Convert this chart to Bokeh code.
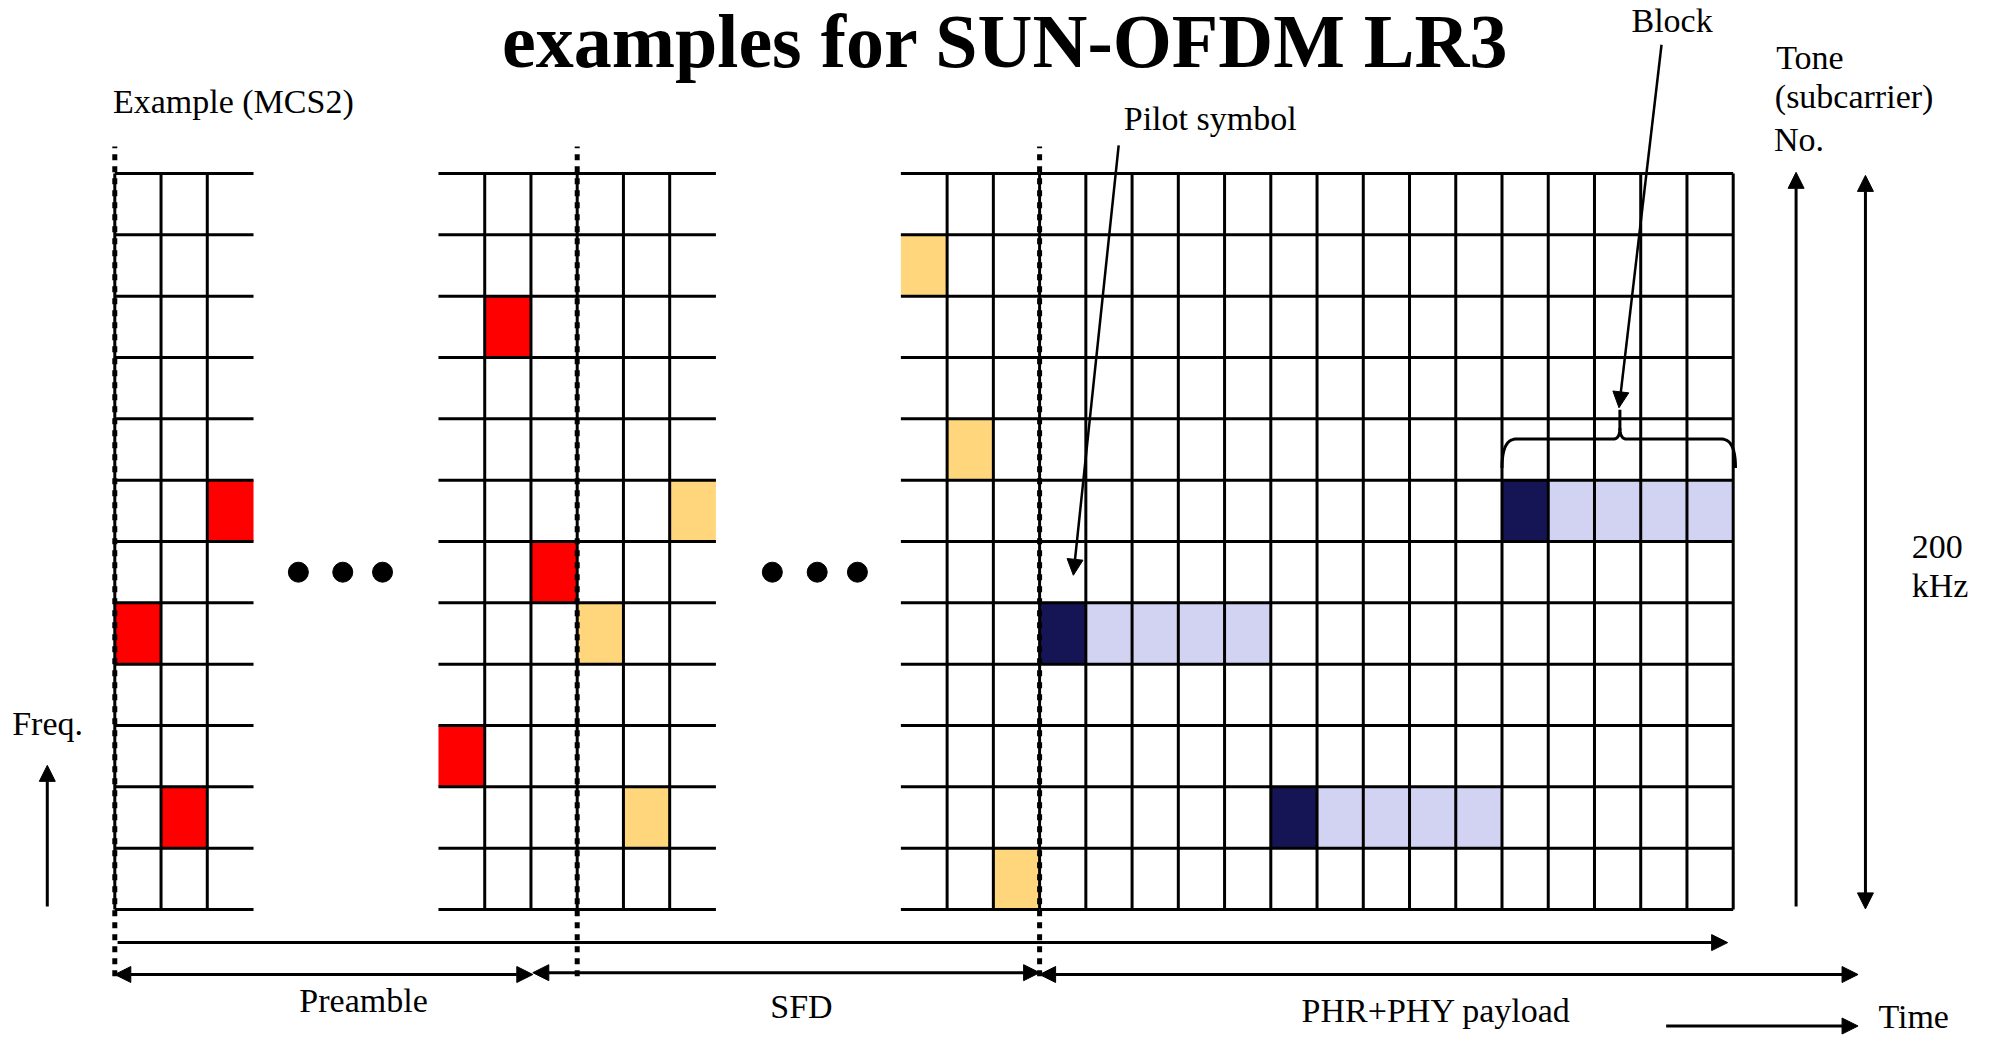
from bokeh.plotting import figure
from bokeh.models import Arrow, NormalHead
from bokeh.core.properties import value
from bokeh.embed import file_html
from bokeh.resources import INLINE
import numpy as np

# ---------------- data (grid units: columns = OFDM symbols, rows = tones) -------------
n_rows = 12
# grid blocks: (first col, last col, vertical lines)
block_a = (0, 3, [0, 1, 2])
block_b = (7, 13, [8, 9, 10, 11, 12])
block_c = (17, 20, [18, 19])
main_grid = (20, 35, list(range(20, 36)))

red_cols = [2, 0, 1, 8, 9, 7]
red_rows = [6, 4, 1, 9, 5, 2]
yellow_cols = [10, 12, 11, 17, 18, 19]
yellow_rows = [4, 6, 1, 10, 7, 0]
pilot_cols = [20, 25, 30]
pilot_rows = [4, 1, 6]
block_len = 5

dots_left = [3.97, 4.93, 5.79]
dots_right = [14.22, 15.19, 16.06]
dots_row = 5.5
dotted_cols = [0, 10, 20]

title = "examples for SUN-OFDM LR3"
labels = ["Example (MCS2)", "Pilot symbol", "Block", "Tone", "(subcarrier)", "No.",
          "200", "kHz", "Freq.", "Time"]
label_x = [-0.04, 21.82, 32.80, 35.93, 35.90, 35.88, 38.86, 38.86, -2.22, 38.14]
label_y = [12.98, 12.70, 14.29, 13.70, 13.06, 12.35, 5.71, 5.09, 2.84, -1.95]
section_names = ["Preamble", "SFD", "PHR+PHY payload"]
section_x = [5.38, 14.85, 28.58]
section_y = [-1.68, -1.785, -1.84]

# ---------------- figure ----------------
COLW = 46.24
ROWH = 61.33
W, H = 1975, 1035
x0 = -114.3 / COLW
y_top = 909.0 / ROWH
p = figure(width=W, height=H, x_range=(x0, x0 + W / COLW), y_range=(y_top - H / ROWH, y_top),
           output_backend="svg", toolbar_location=None, min_border=0)
p.axis.visible = False
p.grid.visible = False
p.outline_line_color = None
p.background_fill_color = "white"

RED = "#FF0000"
YEL = "#FFD67C"
NAVY = "#151556"
LAV = "#D2D2F2"

# coloured cells
p.quad(left=red_cols, right=[c + 1 for c in red_cols], bottom=red_rows,
       top=[r + 1 for r in red_rows], fill_color=RED, line_color=None)
p.quad(left=yellow_cols, right=[c + 1 for c in yellow_cols], bottom=yellow_rows,
       top=[r + 1 for r in yellow_rows], fill_color=YEL, line_color=None)
lav_l, lav_r, lav_b, lav_t = [], [], [], []
for c, r in zip(pilot_cols, pilot_rows):
    lav_l.append(c + 1); lav_r.append(c + block_len); lav_b.append(r); lav_t.append(r + 1)
p.quad(left=lav_l, right=lav_r, bottom=lav_b, top=lav_t, fill_color=LAV, line_color=None)
p.quad(left=pilot_cols, right=[c + 1 for c in pilot_cols], bottom=pilot_rows,
       top=[r + 1 for r in pilot_rows], fill_color=NAVY, line_color=None)

# grid lines
for (c0, c1, verts) in [block_a, block_b, block_c, main_grid]:
    rows = list(range(n_rows + 1))
    p.segment(x0=[c0] * len(rows), x1=[c1] * len(rows), y0=rows, y1=rows,
              line_color="black", line_width=3)
    p.segment(x0=verts, x1=verts, y0=[0] * len(verts), y1=[n_rows] * len(verts),
              line_color="black", line_width=3)

# dotted boundaries
p.segment(x0=dotted_cols, x1=dotted_cols, y0=[-1.09] * 3, y1=[12.44] * 3,
          line_color="black", line_width=5, line_dash="6 6")

# ellipsis dots
p.scatter(x=dots_left + dots_right, y=[dots_row] * 6, size=20, marker="circle",
          fill_color="black", line_color="black")

# brace above last block
def quad_bez(p0, p1, p2, n=12):
    t = np.linspace(0, 1, n)
    x = (1 - t) ** 2 * p0[0] + 2 * (1 - t) * t * p1[0] + t ** 2 * p2[0]
    y = (1 - t) ** 2 * p0[1] + 2 * (1 - t) * t * p1[1] + t ** 2 * p2[1]
    return list(x), list(y)

bx, by = [], []
for seg in [((30.0, 7.20), (30.0, 7.67), (30.3, 7.67)),
            ((30.3, 7.67), (31.4, 7.67), (32.40, 7.67)),
            ((32.40, 7.67), (32.55, 7.67), (32.55, 7.85)),
            ((32.55, 7.85), (32.55, 8.0), (32.55, 8.15))]:
    xs, ys = quad_bez(*seg)
    bx += xs; by += ys
bx2, by2 = [], []
for seg in [((32.55, 7.85), (32.55, 7.67), (32.70, 7.67)),
            ((32.70, 7.67), (33.8, 7.67), (34.75, 7.67)),
            ((34.75, 7.67), (35.05, 7.67), (35.05, 7.20))]:
    xs, ys = quad_bez(*seg)
    bx2 += xs; by2 += ys
p.line(bx, by, line_color="black", line_width=3)
p.line(bx2, by2, line_color="black", line_width=3)

# arrows
def head():
    return NormalHead(size=16, fill_color="black", line_color="black", line_width=1)

single_arrows = dict(
    x0=[0.06, 33.55, -1.46, 36.36, 21.71, 33.45],
    y0=[-0.54, -1.90, 0.05, 0.05, 12.46, 14.10],
    x1=[34.88, 37.70, -1.46, 36.36, 20.73, 32.53],
    y1=[-0.54, -1.90, 2.35, 12.02, 5.45, 8.18],
    w=[3, 3, 3, 3, 2.5, 2.5],
)
for i in range(len(single_arrows["x0"])):
    p.add_layout(Arrow(end=head(), x_start=single_arrows["x0"][i], y_start=single_arrows["y0"][i],
                       x_end=single_arrows["x1"][i], y_end=single_arrows["y1"][i],
                       line_width=single_arrows["w"][i], line_color="black"))

double_arrows = dict(
    x0=[0.0, 9.04, 20.0, 37.86],
    y0=[-1.06, -1.03, -1.06, 0.01],
    x1=[9.04, 20.0, 37.70, 37.86],
    y1=[-1.06, -1.03, -1.06, 11.97],
)
for i in range(len(double_arrows["x0"])):
    p.add_layout(Arrow(start=head(), end=head(), x_start=double_arrows["x0"][i],
                       y_start=double_arrows["y0"][i], x_end=double_arrows["x1"][i],
                       y_end=double_arrows["y1"][i], line_width=3, line_color="black"))

# texts (small upward correction for how the svg backend places the baseline)
FONT = value("Liberation Serif")
small_fix = 0.36 * 34 / ROWH
title_fix = 0.36 * 76 / ROWH
p.text(x=[19.26], y=[(909 - 68) / ROWH + title_fix], text=[title], text_font=FONT,
       text_font_size="76px", text_font_style="bold", text_align="center",
       text_baseline="alphabetic", text_color="black")
p.text(x=label_x, y=[v + small_fix for v in label_y], text=labels, text_font=FONT,
       text_font_size="34px", text_align="left", text_baseline="alphabetic", text_color="black")
p.text(x=section_x, y=[v + small_fix for v in section_y], text=section_names, text_font=FONT,
       text_font_size="34px", text_align="center", text_baseline="alphabetic", text_color="black")

open("out.html", "w").write(file_html(p, INLINE))
